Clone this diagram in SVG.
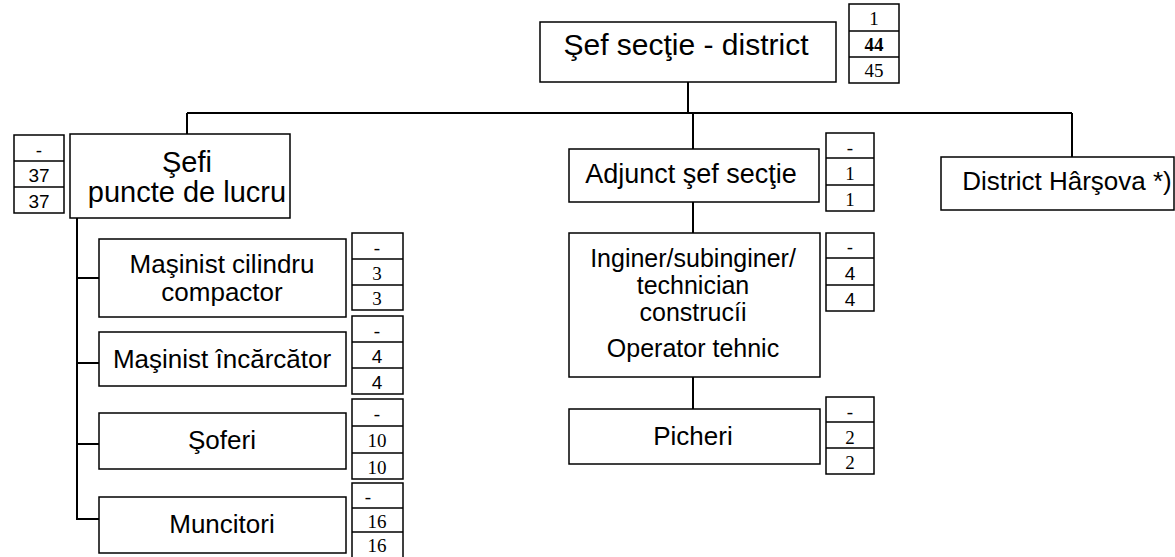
<svg xmlns="http://www.w3.org/2000/svg" width="1175" height="557" viewBox="0 0 1175 557">
<style>
.box{fill:#fff;stroke:#000;stroke-width:1.5}
.nb{fill:#fff;stroke:#000;stroke-width:1.5}
.sep{stroke:#000;stroke-width:1.5}
.con{fill:none;stroke:#000;stroke-width:2}
.t{font-family:"Liberation Sans",Arial,sans-serif;fill:#000;text-anchor:middle}
.n{font-family:"Liberation Serif","Times New Roman",serif;font-size:19px;fill:#000;text-anchor:middle}
.ns{font-family:"Liberation Sans",Arial,sans-serif;font-size:19px;fill:#000;text-anchor:middle}
</style>
<rect width="1175" height="557" fill="#fff"/>
<g id="connectors">
<path class="con" d="M688 82V113M187 113H1072M187 113V134M693 113V149M1072 113V157"/>
<path class="con" d="M693 202V233M693 377V409"/>
<path class="con" d="M77 218V519H99M77 278H99M77 363H99M77 444H99"/>
</g>
<g id="sef">
<rect class="box" x="540" y="22" width="296" height="60"/>
<text class="t" x="686" y="55" font-size="30">Şef secţie - district</text>
<rect class="nb" x="849" y="4" width="50" height="79"/>
<path class="sep" d="M849 31H899M849 57H899"/>
<text class="n" x="874" y="25">1</text>
<text class="n" x="874" y="51" font-weight="bold">44</text>
<text class="n" x="874" y="77">45</text>
</g>
<g id="sefi">
<rect class="box" x="70" y="134" width="220" height="84"/>
<text class="t" x="187" y="172" font-size="29">Şefi</text>
<text class="t" x="187" y="202" font-size="29">puncte de lucru</text>
<rect class="nb" x="14" y="135" width="50" height="78"/>
<path class="sep" d="M14 161H64M14 187H64"/>
<text class="ns" x="39" y="157">-</text>
<text class="ns" x="39" y="182">37</text>
<text class="ns" x="39" y="208">37</text>
</g>
<g id="masinist-cilindru">
<rect class="box" x="99" y="239" width="247" height="78"/>
<text class="t" x="222" y="273" font-size="26">Maşinist cilindru</text>
<text class="t" x="222" y="301" font-size="26">compactor</text>
<rect class="nb" x="352" y="233" width="51" height="77"/>
<path class="sep" d="M352 259H403M352 285H403"/>
<text class="n" x="377" y="254">-</text>
<text class="n" x="377" y="280">3</text>
<text class="n" x="377" y="305">3</text>
</g>
<g id="masinist-incarcator">
<rect class="box" x="99" y="332" width="247" height="54"/>
<text class="t" x="222" y="368" font-size="26">Maşinist încărcător</text>
<rect class="nb" x="352" y="316" width="51" height="78"/>
<path class="sep" d="M352 342H403M352 368H403"/>
<text class="n" x="377" y="337">-</text>
<text class="ns" x="377" y="363">4</text>
<text class="ns" x="377" y="389">4</text>
</g>
<g id="soferi">
<rect class="box" x="99" y="413" width="247" height="56"/>
<text class="t" x="222" y="449" font-size="26">Şoferi</text>
<rect class="nb" x="352" y="399" width="51" height="80"/>
<path class="sep" d="M352 426H403M352 453H403"/>
<text class="n" x="377" y="420">-</text>
<text class="n" x="377" y="447">10</text>
<text class="n" x="377" y="474">10</text>
</g>
<g id="muncitori">
<rect class="box" x="99" y="497" width="247" height="56"/>
<text class="t" x="222" y="533" font-size="26">Muncitori</text>
<rect class="nb" x="352" y="483" width="51" height="80"/>
<path class="sep" d="M352 508H403M352 532H403"/>
<text class="n" x="368" y="503">-</text>
<text class="n" x="377" y="528">16</text>
<text class="n" x="377" y="552" font-size="18">16</text>
</g>
<g id="adjunct">
<rect class="box" x="569" y="149" width="250" height="53"/>
<text class="t" x="691" y="183" font-size="27">Adjunct şef secţie</text>
<rect class="nb" x="826" y="133" width="48" height="78"/>
<path class="sep" d="M826 158H874M826 185H874"/>
<text class="n" x="850" y="154">-</text>
<text class="n" x="850" y="180">1</text>
<text class="n" x="850" y="206">1</text>
</g>
<g id="inginer">
<rect class="box" x="569" y="233" width="251" height="144"/>
<text class="t" x="693" y="267" font-size="25">Inginer/subinginer/</text>
<text class="t" x="693" y="294" font-size="25">technician</text>
<text class="t" x="693" y="321" font-size="25">construcíi</text>
<text class="t" x="693" y="357" font-size="25">Operator tehnic</text>
<rect class="nb" x="826" y="233" width="48" height="78"/>
<path class="sep" d="M826 258H874M826 285H874"/>
<text class="ns" x="850" y="254">-</text>
<text class="ns" x="850" y="280">4</text>
<text class="ns" x="850" y="306">4</text>
</g>
<g id="picheri">
<rect class="box" x="569" y="409" width="251" height="55"/>
<text class="t" x="693" y="445" font-size="26">Picheri</text>
<rect class="nb" x="826" y="397" width="48" height="77"/>
<path class="sep" d="M826 422H874M826 448H874"/>
<text class="n" x="850" y="418">-</text>
<text class="n" x="850" y="444">2</text>
<text class="n" x="850" y="469">2</text>
</g>
<g id="district-harsova">
<rect class="box" x="941" y="157" width="233" height="53"/>
<text class="t" x="1067" y="190" font-size="26">District Hârşova *)</text>
</g>
</svg>
